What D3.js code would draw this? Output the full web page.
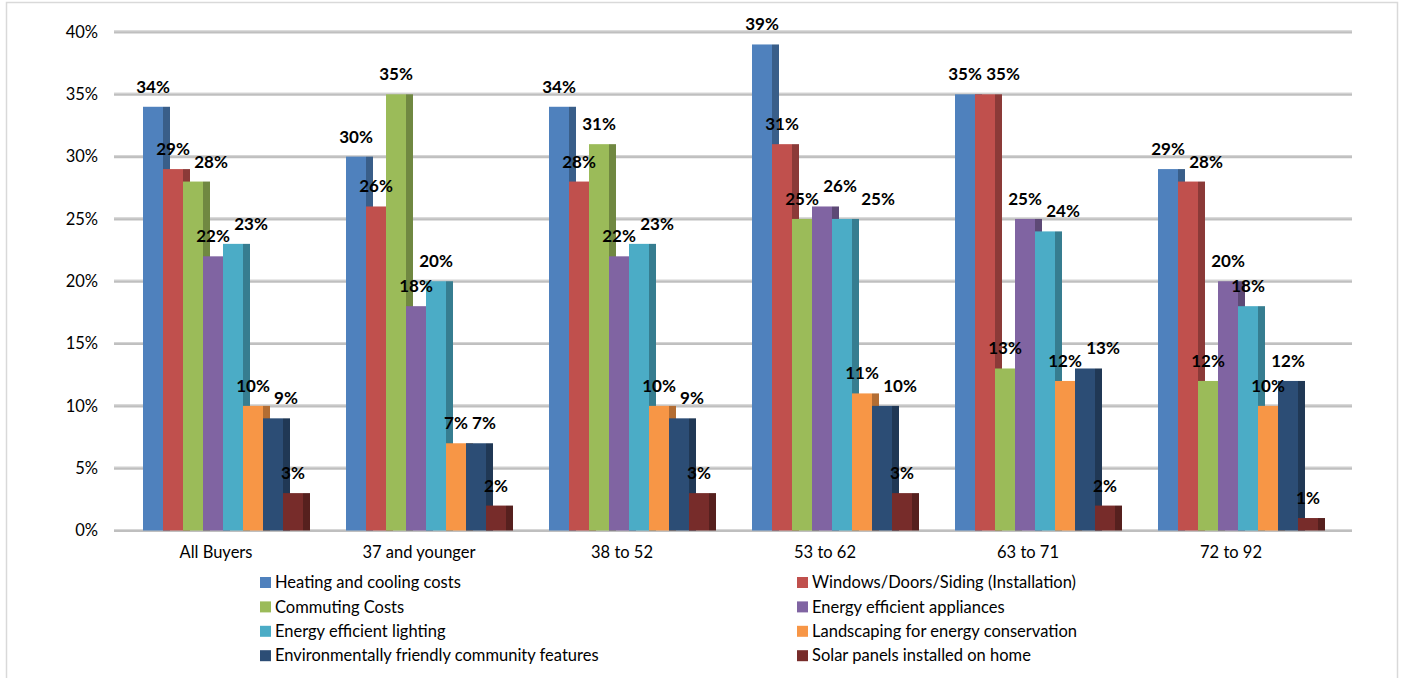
<!DOCTYPE html>
<html>
<head>
<meta charset="utf-8">
<script src="https://cdn.jsdelivr.net/npm/d3@7"></script>
<style>
  html, body { margin: 0; padding: 0; background: #ffffff; }
  svg { display: block; }
  text { font-family: Lato, "Liberation Sans", sans-serif; }
</style>
</head>
<body>
<svg id="chart" width="1406" height="678"></svg>
<script>
// ---- data ----
const categories = ["All Buyers", "37 and younger", "38 to 52", "53 to 62", "63 to 71", "72 to 92"];
const seriesNames = [
  "Heating and cooling costs",
  "Windows/Doors/Siding (Installation)",
  "Commuting Costs",
  "Energy efficient appliances",
  "Energy efficient lighting",
  "Landscaping for energy conservation",
  "Environmentally friendly community features",
  "Solar panels installed on home"
];
const heating     = [34, 30, 34, 39, 35, 29];
const windows     = [29, 26, 28, 31, 35, 28];
const commuting   = [28, 35, 31, 25, 13, 12];
const appliances  = [22, 18, 22, 26, 25, 20];
const lighting    = [23, 20, 23, 25, 24, 18];
const landscaping = [10, 7, 10, 11, 12, 10];
const community   = [9, 7, 9, 10, 13, 12];
const solar       = [3, 2, 3, 3, 2, 1];
const yTicks = [0, 5, 10, 15, 20, 25, 30, 35, 40];
const yTickLabels = ["0%", "5%", "10%", "15%", "20%", "25%", "30%", "35%", "40%"];

const seriesValues = [heating, windows, commuting, appliances, lighting, landscaping, community, solar];
const colors = ["#4F81BD", "#C0504D", "#9BBB59", "#8064A2", "#4BACC6", "#F79646", "#2C4D75", "#772C2A"];
const sideColors = colors.map(c => d3.color(c).darker(0.9).formatHex());

// ---- layout ----
const svg = d3.select("#chart");
const depth = 7;

// outer border
svg.append("rect")
  .attr("x", 6.5).attr("y", 2.5).attr("width", 1391).attr("height", 690)
  .attr("fill", "none").attr("stroke", "#d9d9d9").attr("stroke-width", 1.5);

const y = d3.scaleLinear().domain([0, 40]).range([530.5, 32]);
const x0 = d3.scaleBand().domain(categories).range([114.5, 1332.5]);
const x1 = d3.scaleBand().domain(seriesNames).range([28.5, 188.5]);

// gridlines
const grid = svg.append("g");
grid.selectAll("line.g").data(yTicks).enter().append("line")
  .attr("x1", 114).attr("x2", 1352)
  .attr("y1", d => y(d)).attr("y2", d => y(d))
  .attr("stroke", "#bfbfbf").attr("stroke-width", 3);
grid.selectAll("line.h").data(yTicks).enter().append("line")
  .attr("x1", 114).attr("x2", 1352)
  .attr("y1", d => y(d) - 1).attr("y2", d => y(d) - 1)
  .attr("stroke", "#d6d6d6").attr("stroke-width", 1);

// y axis labels
svg.append("g").selectAll("text").data(yTicks).enter().append("text")
  .attr("x", 98).attr("y", d => y(d))
  .attr("dy", "0.35em")
  .attr("text-anchor", "end")
  .attr("font-size", 16.5).attr("fill", "#000")
  .text((d, i) => yTickLabels[i]);

// category labels
svg.append("g").selectAll("text").data(categories).enter().append("text")
  .attr("x", d => x0(d) + x0.bandwidth() / 2)
  .attr("y", 558)
  .attr("text-anchor", "middle")
  .attr("font-size", 16.5).attr("fill", "#000")
  .text(d => d);

// bars
const bars = svg.append("g");
const labelsG = svg.append("g");
categories.forEach((cat, ci) => {
  const placed = [];
  seriesNames.forEach((s, si) => {
    const v = seriesValues[si][ci];
    const bx = x0(cat) + x1(s);
    const bw = x1.bandwidth();
    const top = y(v);
    const base = y(0);
    bars.append("rect")
      .attr("x", bx + bw).attr("y", top)
      .attr("width", depth).attr("height", base - top)
      .attr("fill", sideColors[si]);
    bars.append("rect")
      .attr("x", bx).attr("y", top)
      .attr("width", bw).attr("height", base - top)
      .attr("fill", colors[si]);
  });
  seriesNames.forEach((s, si) => {
    const v = seriesValues[si][ci];
    const bx = x0(cat) + x1(s);
    const bw = x1.bandwidth();
    let cx = bx + bw / 2;
    const by = y(v) - 14;
    const t = labelsG.append("text")
      .attr("y", by)
      .attr("text-anchor", "middle")
      .attr("font-size", 17).attr("font-weight", "bold").attr("fill", "#000")
      .text(v + "%");
    const tw = t.node().getComputedTextLength();
    const pad = 2;
    const box = () => ({ x1: cx - tw / 2 - pad, x2: cx + tw / 2 + pad, y1: by - 12 - pad, y2: by + pad });
    const hit = (a, b) => a.x1 < b.x2 && b.x1 < a.x2 && a.y1 < b.y2 && b.y1 < a.y2;
    let guard = 0;
    while (placed.some(p => hit(box(), p)) && guard < 80) { cx += 1; guard++; }
    placed.push(box());
    t.attr("x", cx);
  });
});

// legend
const legend = svg.append("g");
seriesNames.forEach((s, i) => {
  const col = i % 2, row = Math.floor(i / 2);
  const lx = col === 0 ? 260 : 797;
  const ly = 582.5 + row * 24.4;
  legend.append("rect")
    .attr("x", lx).attr("y", ly - 5.5).attr("width", 11).attr("height", 11)
    .attr("fill", colors[i]);
  legend.append("text")
    .attr("x", lx + 15).attr("y", ly).attr("dy", "0.35em")
    .attr("font-size", 16.5).attr("fill", "#000")
    .text(s);
});
</script>
</body>
</html>
